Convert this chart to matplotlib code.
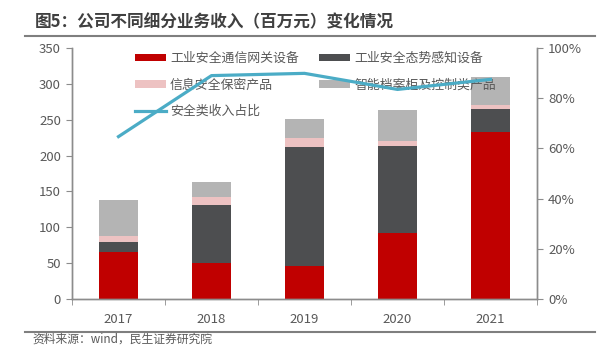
import matplotlib
matplotlib.use("Agg")
import matplotlib.pyplot as plt
from matplotlib.ticker import FuncFormatter, FixedLocator

plt.rcParams['font.family'] = ['Noto Sans CJK SC', 'DejaVu Sans']

# 数据（百万元）
years = ["2017", "2018", "2019", "2020", "2021"]
gateway = [66, 50.5, 45.5, 92.5, 233]        # 工业安全通信网关设备
awareness = [13, 80, 166, 121.5, 32]         # 工业安全态势感知设备
secrecy = [9, 12, 13.5, 7, 5]                # 信息安全保密产品
archive = [50.5, 20, 26.5, 43, 39]           # 智能档案柜及控制类产品
ratio = [0.647, 0.89, 0.899, 0.835, 0.875]   # 安全类收入占比

labels = ["工业安全通信网关设备", "工业安全态势感知设备",
          "信息安全保密产品", "智能档案柜及控制类产品", "安全类收入占比"]
colors = ["#C00000", "#4D4E50", "#EDC2C2", "#B4B4B4"]
line_color = "#4BACC6"
text_color = "#595959"
spine_color = "#8C8C8C"

fig = plt.figure(figsize=(6.14, 3.46), dpi=100)
ax = fig.add_axes([72 / 614, 1 - 299 / 346, 465 / 614, 251 / 346])

x = range(len(years))
bottom = [0] * len(years)
bars = []
for vals, c in zip([gateway, awareness, secrecy, archive], colors):
    b = ax.bar(x, vals, bottom=bottom, width=0.41, color=c, zorder=2)
    bars.append(b)
    bottom = [b0 + v for b0, v in zip(bottom, vals)]

ax.set_xlim(-0.5, len(years) - 0.5)
ax.set_ylim(0, 350)
ax.set_yticks(range(0, 351, 50))
ax.set_xticks(list(x))
ax.set_xticklabels(years)
ax.xaxis.set_minor_locator(FixedLocator([i - 0.5 for i in range(len(years) + 1)]))
ax.tick_params(axis="x", which="major", length=0, pad=10, labelsize=9.5, labelcolor=text_color)
ax.tick_params(axis="x", which="minor", length=4, color=spine_color, direction="out")
ax.tick_params(axis="y", length=4, color=spine_color, labelsize=9.5, labelcolor=text_color, pad=4)

ax2 = ax.twinx()
ln, = ax2.plot(x, ratio, color=line_color, linewidth=2.3, zorder=3)
ax2.set_ylim(0, 1)
ax2.set_yticks([0, 0.2, 0.4, 0.6, 0.8, 1.0])
ax2.yaxis.set_major_formatter(FuncFormatter(lambda v, p: f"{v:.0%}"))
ax2.tick_params(axis="y", length=4, color=spine_color, labelsize=9.5, labelcolor=text_color, pad=4)

for a in (ax, ax2):
    a.spines["top"].set_visible(False)
    for s in ("left", "right", "bottom"):
        a.spines[s].set_color(spine_color)
        a.spines[s].set_linewidth(1.0)

# 图例：两列，按列填充
handles = [bars[0], bars[2], ln, bars[1], bars[3]]
hlabels = [labels[0], labels[2], labels[4], labels[1], labels[3]]
leg = ax.legend(handles, hlabels, ncol=2, frameon=False, loc="upper left",
                bbox_to_anchor=(135 / 614, 1 - 52 / 346), bbox_transform=fig.transFigure,
                borderaxespad=0, borderpad=0, fontsize=9.3, handlelength=2.4,
                handleheight=0.55, handletextpad=0.3, labelspacing=1.05, columnspacing=1.6)
for t in leg.get_texts():
    t.set_color(text_color)
leg.set_zorder(5)

# 标题与来源
fig.text(35 / 614, 1 - 22 / 346, "图5：公司不同细分业务收入（百万元）变化情况",
         fontsize=12, fontweight="bold", color="#404040", va="center", ha="left")
fig.add_artist(plt.Line2D([25 / 614, 595 / 614], [1 - 36 / 346] * 2, color="#7F7F7F", linewidth=1.5))
fig.add_artist(plt.Line2D([25 / 614, 595 / 614], [1 - 331.5 / 346] * 2, color="#7F7F7F", linewidth=1.5))
fig.text(32 / 614, 1 - 339.5 / 346, "资料来源：wind，民生证券研究院",
         fontsize=8.5, color=text_color, va="center", ha="left")

fig.savefig("out.png", dpi=100)
